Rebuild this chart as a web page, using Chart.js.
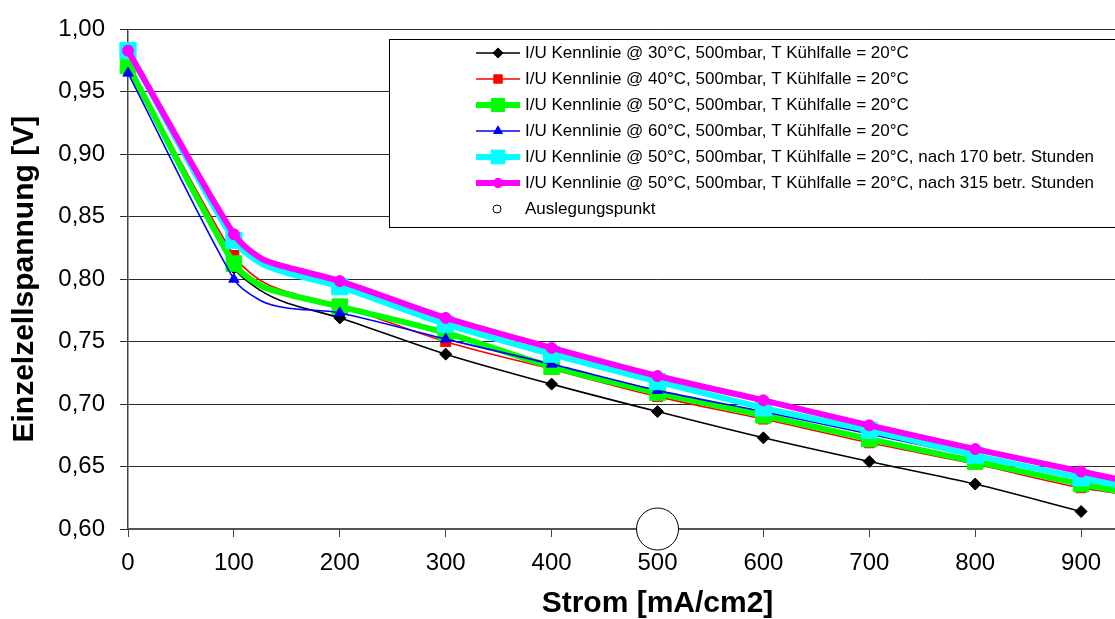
<!DOCTYPE html>
<html lang="de">
<head>
<meta charset="utf-8">
<title>I/U Kennlinien</title>
<script src="https://cdn.jsdelivr.net/npm/chart.js@4/dist/chart.umd.min.js"></script>
<style>
    html, body { margin: 0; padding: 0; background: #fff; overflow: hidden; }
    .chart-box { width: 1200px; height: 619px; }
</style>
</head>
<body>
<div class="chart-box">
    <canvas id="kennlinieChart" width="1200" height="619"></canvas>
</div>
<script>
// Strom [mA/cm2]; Marker nur bei vollen 100ern, 125/150 sind Stuetzstellen im Knick
const strom = [0, 100, 125, 150, 200, 300, 400, 500, 600, 700, 800, 900, 1000];

// Einzelzellspannung [V] je Messreihe
const u30 = [0.970, 0.809, 0.791, 0.781, 0.769, 0.740, 0.716, 0.694, 0.673, 0.654, 0.636, 0.614];
const u40 = [0.972, 0.819, 0.799, 0.790, 0.779, 0.750, 0.728, 0.706, 0.688, 0.669, 0.652, 0.633, 0.621];
const u50 = [0.971, 0.8125, 0.795, 0.788, 0.778, 0.757, 0.730, 0.709, 0.691, 0.672, 0.654, 0.636, 0.620];
const u60 = [0.965, 0.800, 0.783, 0.777, 0.773, 0.752, 0.732, 0.711, 0.694, 0.676, 0.658, 0.640, 0.622];
const u50h170 = [0.983, 0.831, 0.813, 0.805, 0.794, 0.764, 0.740, 0.718, 0.697, 0.679, 0.659, 0.641, 0.624];
const u50h315 = [0.983, 0.836, 0.817, 0.8096, 0.7985, 0.769, 0.745, 0.7225, 0.703, 0.683, 0.664, 0.646, 0.628];

// Auslegungspunkt
const auslegungStrom = [500];
const auslegungSpannung = [0.60];

const xTicks = [0, 100, 200, 300, 400, 500, 600, 700, 800, 900];
const yTicks = [0.60, 0.65, 0.70, 0.75, 0.80, 0.85, 0.90, 0.95, 1.00];

const legendLabels = [
    'I/U Kennlinie @ 30°C, 500mbar, T Kühlfalle = 20°C',
    'I/U Kennlinie @ 40°C, 500mbar, T Kühlfalle = 20°C',
    'I/U Kennlinie @ 50°C, 500mbar, T Kühlfalle = 20°C',
    'I/U Kennlinie @ 60°C, 500mbar, T Kühlfalle = 20°C',
    'I/U Kennlinie @ 50°C, 500mbar, T Kühlfalle = 20°C, nach 170 betr. Stunden',
    'I/U Kennlinie @ 50°C, 500mbar, T Kühlfalle = 20°C, nach 315 betr. Stunden',
    'Auslegungspunkt'
];

const schrift = '"Liberation Sans", Arial, sans-serif';

function punkte(xs, ys) {
    return ys.map((y, i) => ({ x: xs[i], y: y }));
}

function reihe(label, werte, farbe, breite, stil, radius, ordnung) {
    // Marker nur an den Messpunkten (volle 100er)
    const r = (c) => (c.raw && c.raw.x % 100 === 0) ? radius : 0;
    return {
        label: label,
        data: punkte(strom, werte),
        borderColor: farbe,
        backgroundColor: farbe,
        borderWidth: breite,
        pointStyle: stil,
        markerRadius: radius,
        pointRadius: r,
        pointHoverRadius: r,
        pointBackgroundColor: farbe,
        pointBorderColor: farbe,
        pointBorderWidth: 1,
        tension: 0.3,
        clip: false,
        order: ordnung
    };
}

const datasets = [
    reihe(legendLabels[0], u30, '#000000', 1.6, 'rectRot', 6, 6),
    reihe(legendLabels[1], u40, '#ff0000', 1.6, 'rect', 7, 5),
    reihe(legendLabels[2], u50, '#00ff00', 6, 'rect', 11, 4),
    reihe(legendLabels[3], u60, '#0000ff', 1.6, 'triangle', 6, 3),
    reihe(legendLabels[4], u50h170, '#00ffff', 6, 'rect', 11.5, 2),
    reihe(legendLabels[5], u50h315, '#ff00ff', 6, 'circle', 5.5, 1),
    {
        label: legendLabels[6],
        data: punkte(auslegungStrom, auslegungSpannung),
        showLine: false,
        pointStyle: 'circle',
        pointRadius: 21,
        pointHoverRadius: 21,
        pointBackgroundColor: '#ffffff',
        pointBorderColor: '#000000',
        pointBorderWidth: 1,
        borderColor: '#000000',
        backgroundColor: '#ffffff',
        clip: false,
        order: 0
    }
];

// Legende als Kasten im Diagramm
const legendeImPlot = {
    id: 'legendeImPlot',
    afterDraw(chart) {
        const c = chart.ctx;
        const boxLeft = 389.5, boxTop = 39.5, boxRight = 1199, boxBottom = 227.5;
        c.save();
        c.fillStyle = '#ffffff';
        c.fillRect(boxLeft, boxTop, boxRight - boxLeft, boxBottom - boxTop);
        c.strokeStyle = '#000000';
        c.lineWidth = 1;
        c.strokeRect(boxLeft, boxTop, boxRight - boxLeft, boxBottom - boxTop);

        c.font = '17px ' + schrift;
        c.textBaseline = 'middle';
        c.textAlign = 'left';

        chart.data.datasets.forEach((ds, i) => {
            const y = 53 + i * 26;
            if (ds.showLine !== false) {
                c.strokeStyle = ds.borderColor;
                c.lineWidth = ds.borderWidth;
                c.beginPath();
                c.moveTo(476, y);
                c.lineTo(520, y);
                c.stroke();
                c.fillStyle = ds.pointBackgroundColor;
                c.strokeStyle = ds.pointBorderColor;
                c.lineWidth = 1;
                Chart.helpers.drawPoint(c, {
                    pointStyle: ds.pointStyle,
                    radius: ds.markerRadius * 0.85,
                    rotation: 0,
                    borderWidth: 1
                }, 498, y);
            } else {
                c.fillStyle = '#ffffff';
                c.strokeStyle = '#000000';
                c.lineWidth = 1;
                c.beginPath();
                c.arc(497, y, 4, 0, Math.PI * 2);
                c.fill();
                c.stroke();
            }
            c.fillStyle = '#000000';
            c.fillText(ds.label, 525, y);
        });
        c.restore();
    }
};

const ctx = document.getElementById('kennlinieChart').getContext('2d');
new Chart(ctx, {
    type: 'line',
    data: { datasets: datasets },
    options: {
        responsive: false,
        animation: false,
        events: [],
        // grosser Kreis am Auslegungspunkt soll den Plotbereich nicht verkleinern
        layout: { autoPadding: false, padding: { top: 24, right: 13, bottom: 0, left: 0 } },
        plugins: {
            legend: { display: false },
            tooltip: { enabled: false }
        },
        scales: {
            x: {
                type: 'linear',
                min: 0,
                max: 1000,
                afterFit(scale) {
                    scale.height = 90;
                    scale.paddingRight = 0;
                },
                afterBuildTicks(scale) {
                    scale.ticks = xTicks.map(v => ({ value: v }));
                },
                ticks: {
                    padding: 12,
                    color: '#000',
                    font: { family: schrift, size: 24 }
                },
                grid: {
                    drawOnChartArea: false,
                    drawTicks: true,
                    tickLength: 8,
                    color: '#444'
                },
                border: { color: '#555', width: 2 },
                title: {
                    display: true,
                    text: 'Strom [mA/cm2]',
                    color: '#000',
                    padding: { top: 0, bottom: 0 },
                    font: { family: schrift, size: 30, weight: 'bold', lineHeight: 1 }
                }
            },
            y: {
                min: 0.6,
                max: 1.0,
                afterFit(scale) { scale.width = 128; },
                afterBuildTicks(scale) {
                    scale.ticks = yTicks.map(v => ({ value: v }));
                },
                ticks: {
                    padding: 15,
                    color: '#000',
                    font: { family: schrift, size: 24 },
                    callback: v => v.toFixed(2).replace('.', ',')
                },
                grid: {
                    color: '#2a2a2a',
                    lineWidth: 1,
                    tickLength: 8
                },
                border: { color: '#444', width: 1.5 },
                title: {
                    display: true,
                    text: 'Einzelzellspannung [V]',
                    color: '#000',
                    padding: { top: 10, bottom: 0 },
                    font: { family: schrift, size: 30, weight: 'bold', lineHeight: 1 }
                }
            }
        }
    },
    plugins: [legendeImPlot]
});
</script>
</body>
</html>
